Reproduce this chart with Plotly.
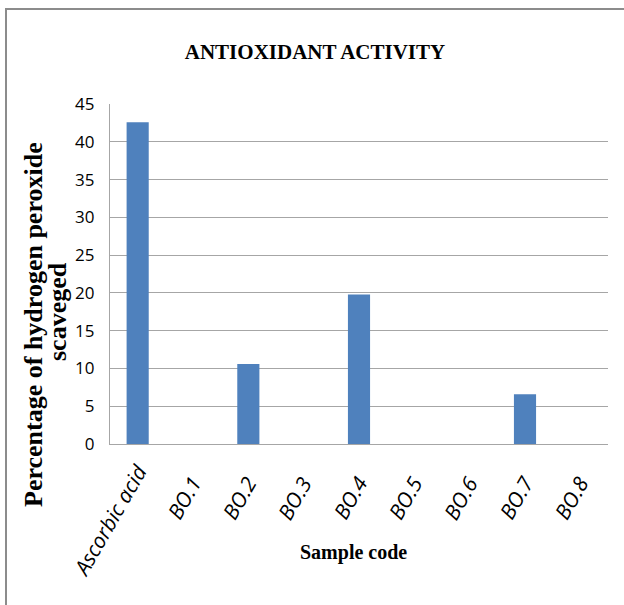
import plotly.graph_objects as go

categories = ["Ascorbic acid", "BO.1", "BO.2", "BO.3", "BO.4", "BO.5", "BO.6", "BO.7", "BO.8"]
values = [42.6, 0, 10.6, 0, 19.8, 0, 0, 6.6, 0]
y_ticks = list(range(0, 50, 5))

W, H = 624, 605
L, R, T, B = 110, 16, 104, 161
pw, ph = W - L - R, H - T - B

def px_x(x):
    return (x - L) / pw

def px_y(y):
    return (H - B - y) / ph

fig = go.Figure(go.Bar(
    x=categories, y=values,
    marker=dict(color="#4f81bd", line=dict(width=0)),
))

grid = "#a6a6a6"
serif = "Liberation Serif"
sans = "Open Sans, sans-serif"

annotations = [
    dict(text="<b>Percentage of hydrogen peroxide</b>", textangle=-90,
         xref="paper", yref="paper", x=px_x(33), y=px_y(325),
         xanchor="center", yanchor="middle", showarrow=False,
         font=dict(family=serif, size=26, color="black")),
    dict(text="<b>scaveged</b>", textangle=-90,
         xref="paper", yref="paper", x=px_x(57), y=px_y(312),
         xanchor="center", yanchor="middle", showarrow=False,
         font=dict(family=serif, size=26, color="black")),
    dict(text="<b>Sample code</b>",
         xref="paper", yref="paper", x=px_x(353), y=px_y(552),
         xanchor="center", yanchor="middle", showarrow=False,
         font=dict(family=serif, size=20, color="black")),
]
# rotated category labels (drawn as annotations so long and short labels sit like the original)
for cat in categories:
    extra = len(cat) - 4
    annotations.append(dict(
        text=cat, textangle=-60,
        xref="x", yref="paper", x=cat, y=px_y(498 + 2.4 * extra),
        xshift=-9 - 2.1 * extra,
        xanchor="center", yanchor="middle", showarrow=False,
        font=dict(family="Open Sans", size=21, color="black", style="italic"),
    ))

fig.update_layout(
    width=W, height=H,
    margin=dict(l=L, r=R, t=T, b=B),
    paper_bgcolor="white", plot_bgcolor="white",
    bargap=0.6,
    showlegend=False,
    title=dict(
        text="<b>ANTIOXIDANT ACTIVITY</b>",
        font=dict(family=serif, size=21, color="black"),
        x=px_x(315), xref="paper", xanchor="center",
        y=1 - 52 / H, yref="container", yanchor="middle",
    ),
    xaxis=dict(
        range=[-0.5, len(categories) - 0.5], autorange=False,
        showticklabels=False,
        showline=True, linecolor=grid, linewidth=1.3,
        ticks="", showgrid=False,
    ),
    yaxis=dict(
        range=[0, 45], tickvals=y_ticks,
        tickfont=dict(family=sans, size=17, color="black"),
        showline=True, linecolor=grid, linewidth=1.3,
        showgrid=True, gridcolor=grid, gridwidth=1.3,
        zeroline=False, ticks="", ticklabelstandoff=11,
    ),
    shapes=[dict(
        type="rect", xref="paper", yref="paper",
        x0=px_x(6), x1=px_x(660), y0=px_y(640), y1=px_y(9),
        line=dict(color="#8c8c8c", width=2), layer="below",
    )],
    annotations=annotations,
)

fig.write_html("out.html")
